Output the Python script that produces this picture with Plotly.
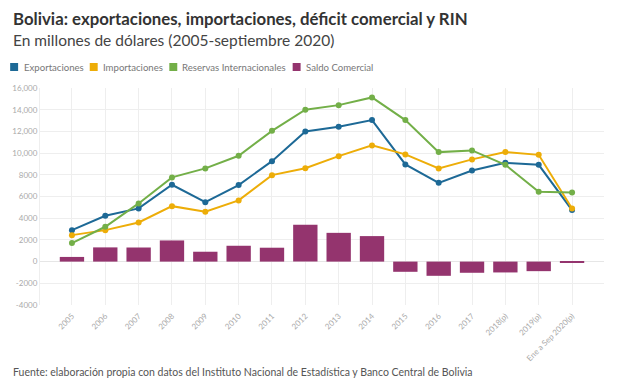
import plotly.graph_objects as go

categories = ["2005", "2006", "2007", "2008", "2009", "2010", "2011", "2012", "2013",
              "2014", "2015", "2016", "2017", "2018(p)", "2019(p)", "Ene a Sep 2020(p)"]
exportaciones = [2900, 4220, 4900, 7080, 5480, 7050, 9260, 12000, 12420, 13040,
                 8960, 7260, 8400, 9100, 8920, 4750]
importaciones = [2440, 2900, 3610, 5110, 4590, 5640, 7970, 8600, 9720, 10710,
                 9880, 8590, 9420, 10090, 9840, 4900]
reservas = [1710, 3210, 5360, 7760, 8590, 9750, 12050, 14000, 14420, 15130,
            13040, 10090, 10250, 8920, 6430, 6380]
saldo = [430, 1310, 1300, 1950, 910, 1460, 1280, 3400, 2650, 2350,
         -940, -1310, -1030, -1000, -880, -130]
ytickvals = [-4000, -2000, 0, 2000, 4000, 6000, 8000, 10000, 12000, 14000, 16000]
yticktext = ["-4000", "-2000", "0", "2000", "4000", "6000", "8000", "10,000", "12,000", "14,000", "16,000"]
series_names = ["Exportaciones", "Importaciones", "Reservas Internacionales", "Saldo Comercial"]
colors = ["#1D6996", "#EDAD08", "#73AF48", "#94346E"]

W, H = 640, 380
L, R, T, B = 37, 36, 88, 75
PW, PH = W - L - R, H - T - B


def px(x):
    return (x - L) / PW


def py(y):
    return (H - B - y) / PH


FONT = "Lato"
fig = go.Figure()
fig.add_trace(go.Bar(x=categories, y=saldo, name=series_names[3],
                     marker=dict(color=colors[3], line=dict(width=0)), showlegend=False))
for vals, name, col in [(exportaciones, series_names[0], colors[0]),
                        (importaciones, series_names[1], colors[1]),
                        (reservas, series_names[2], colors[2])]:
    fig.add_trace(go.Scatter(x=categories, y=vals, name=name, mode="lines+markers",
                             line=dict(color=col, width=2),
                             marker=dict(color=col, size=6), showlegend=False))

annotations = [
    dict(text="<b>Bolivia: exportaciones, importaciones, déficit comercial y RIN</b>",
         x=px(8), y=py(18), xanchor="left", yanchor="middle",
         font=dict(family=FONT, size=16.8, color="#333333")),
    dict(text="En millones de dólares (2005-septiembre 2020)",
         x=px(8), y=py(40), xanchor="left", yanchor="middle",
         font=dict(family=FONT, size=15.5, color="#444444")),
    dict(text="Fuente: elaboración propia con datos del Instituto Nacional de Estadística y Banco Central de Bolivia",
         x=px(8), y=py(372), xanchor="left", yanchor="middle",
         font=dict(family=FONT, size=10.5, color="#555555")),
]
shapes = []
legend_sq = [7, 87, 167, 291]
legend_tx = [19, 98, 178, 302]
for name, col, sx, tx in zip(series_names, colors, legend_sq, legend_tx):
    shapes.append(dict(type="rect", xref="paper", yref="paper",
                       x0=px(sx), x1=px(sx + 8), y0=py(63), y1=py(71),
                       fillcolor=col, line=dict(width=0)))
    annotations.append(dict(text=name, x=px(tx), y=py(67), xanchor="left", yanchor="middle",
                            font=dict(family=FONT, size=9.6, color="#777777")))
for a in annotations:
    a.update(xref="paper", yref="paper", showarrow=False)

fig.update_layout(
    width=W, height=H, margin=dict(l=L, r=R, t=T, b=B),
    paper_bgcolor="white", plot_bgcolor="white",
    bargap=0.27, showlegend=False,
    annotations=annotations, shapes=shapes,
    font=dict(family=FONT),
)
fig.update_xaxes(type="category", tickangle=-45, showgrid=True, gridcolor="#eeeeee",
                 tickfont=dict(size=8, color="#aaaaaa"), ticks="", zeroline=False,
                 showline=False, ticklabelstandoff=4)
fig.update_yaxes(range=[-4000, 16000], tickvals=ytickvals, ticktext=yticktext,
                 showgrid=True, gridcolor="#eeeeee", zeroline=True, zerolinecolor="#e6e6e6",
                 zerolinewidth=1, tickfont=dict(size=8, color="#aaaaaa"),
                 showline=True, linecolor="#eeeeee", ticks="")

fig.write_html("out.html")
